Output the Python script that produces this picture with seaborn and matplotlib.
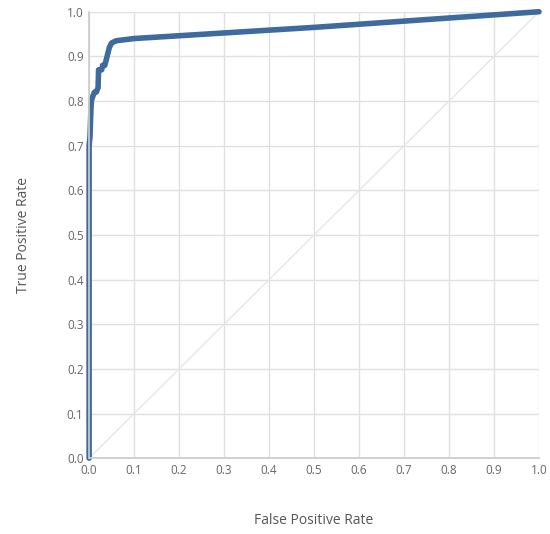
import pandas as pd
import matplotlib
matplotlib.use('Agg')
import matplotlib.pyplot as plt
import seaborn as sns

# ROC curve points
fpr = [0.0, 0.0, 0.002, 0.004, 0.005, 0.008, 0.012, 0.016, 0.02, 0.021, 0.028, 0.03, 0.035, 0.04, 0.045, 0.05, 0.06, 0.1, 0.5, 1.0]
tpr = [0.0, 0.70, 0.72, 0.78, 0.80, 0.81, 0.82, 0.82, 0.83, 0.87, 0.87, 0.88, 0.88, 0.90, 0.92, 0.93, 0.935, 0.94, 0.965, 1.0]
ticks = [i / 10 for i in range(11)]

sns.set_theme(style="whitegrid")
plt.rcParams['font.family'] = ['Open Sans', 'DejaVu Sans']

fig = plt.figure(figsize=(5.5, 5.34), dpi=100)
ax = fig.add_axes([0.162, 0.142, 0.818, 0.836])

ax.plot([0, 1], [0, 1], color='#e6e6e6', linewidth=1)
sns.lineplot(x=fpr, y=tpr, ax=ax, color='#3f6a9e', linewidth=4, sort=False, estimator=None)
for line in ax.lines:
    line.set_clip_on(False)

ax.set_xlim(0, 1)
ax.set_ylim(0, 1)
ax.set_xticks(ticks)
ax.set_yticks(ticks)
ax.set_xticklabels([f'{t:.1f}' for t in ticks])
ax.set_yticklabels([f'{t:.1f}' for t in ticks])
ax.tick_params(colors='#666666', labelsize=8.5, length=0, pad=4)
ax.grid(True, color='#e0e0e0', linewidth=1)
for s in ['top', 'right']:
    ax.spines[s].set_visible(False)
for s in ['left', 'bottom']:
    ax.spines[s].set_color('#cccccc')
ax.set_xlabel('False Positive Rate', color='#555555', fontsize=10, labelpad=26)
ax.set_ylabel('True Positive Rate', color='#555555', fontsize=10, labelpad=36)
ax.yaxis.set_label_coords(-0.13, 0.5)

fig.savefig('out.png', dpi=100)
